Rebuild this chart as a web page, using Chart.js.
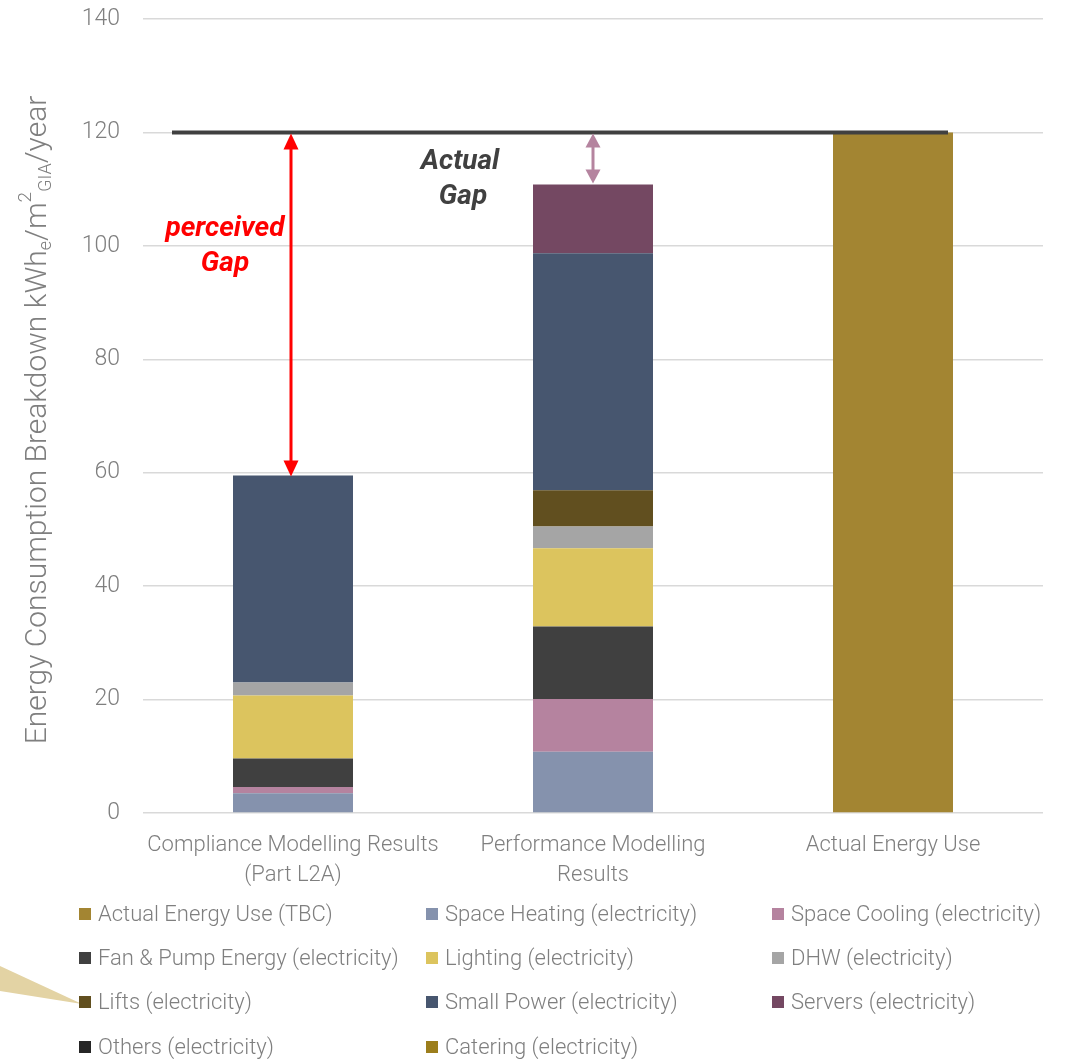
<!DOCTYPE html>
<html>
<head>
<meta charset="utf-8">
<script src="https://cdn.jsdelivr.net/npm/chart.js@4.4.1/dist/chart.umd.min.js"></script>
<style>
  html, body { margin: 0; padding: 0; background: #ffffff; }
  #wrap { width: 1066px; height: 1061px; position: relative; }
</style>
</head>
<body>
<div id="wrap"><canvas id="chart" width="1066" height="1061"></canvas></div>
<script>
// Categories along the x axis (multi-line labels as arrays)
const categories = [
  ["Compliance Modelling Results", "(Part L2A)"],
  ["Performance Modelling", "Results"],
  "Actual Energy Use"
];

// Energy end-use breakdown, kWh_e per m² GIA per year
const actualEnergyUse = [null, null, 120];
const spaceHeating    = [3.5, 10.8, null];
const spaceCooling    = [1.1, 9.3, null];
const fanPumpEnergy   = [5.0, 12.8, null];
const lighting        = [11.1, 13.8, null];
const dhw             = [2.3, 3.8, null];
const lifts           = [null, 6.4, null];
const smallPower      = [36.5, 41.8, null];
const servers         = [null, 12.1, null];
const others          = [null, null, null];
const catering        = [null, null, null];

// Benchmark level shown by the heavy horizontal line
const actualLevel = 120;

// Y axis tick range
const yMin = 0, yMax = 140, yStep = 20;

const seriesLabels = [
  "Actual Energy Use (TBC)", "Space Heating (electricity)", "Space Cooling (electricity)",
  "Fan & Pump Energy (electricity)", "Lighting (electricity)", "DHW (electricity)",
  "Lifts (electricity)", "Small Power (electricity)", "Servers (electricity)",
  "Others (electricity)", "Catering (electricity)"
];
const seriesData = [
  actualEnergyUse, spaceHeating, spaceCooling, fanPumpEnergy, lighting, dhw,
  lifts, smallPower, servers, others, catering
];
const seriesColors = [
  "#A38532", "#8592AD", "#B5839F", "#404040", "#DCC45E", "#A5A5A5",
  "#614F1F", "#47566F", "#744862", "#262626", "#9C7E1C"
];

const FONT = "Roboto, 'Liberation Sans', sans-serif";
const TEXT_GREY = "#7F7F7F";

const stackTotal = idx => seriesData.slice(1).reduce((s, d) => s + (d[idx] || 0), 0);

// Rotated y-axis title with subscripts/superscript
const axisTitlePlugin = {
  id: "axisTitle",
  afterDraw(chart) {
    const ctx = chart.ctx;
    const area = chart.chartArea;
    const parts = [
      { t: "Energy Consumption Breakdown kWh", size: 30, dy: 0 },
      { t: "e", size: 18, dy: 8 },
      { t: "/m", size: 30, dy: 0 },
      { t: "2", size: 19, dy: -12 },
      { t: "GIA", size: 18, dy: 8 },
      { t: "/year", size: 30, dy: 0 }
    ];
    ctx.save();
    ctx.fillStyle = TEXT_GREY;
    ctx.textBaseline = "middle";
    ctx.textAlign = "left";
    let total = 0;
    parts.forEach(p => { ctx.font = `300 ${p.size}px ${FONT}`; p.w = ctx.measureText(p.t).width; total += p.w; });
    ctx.translate(38, (area.top + area.bottom) / 2 + 4);
    ctx.rotate(-Math.PI / 2);
    let x = -total / 2;
    parts.forEach(p => {
      ctx.font = `300 ${p.size}px ${FONT}`;
      ctx.fillText(p.t, x, p.dy);
      x += p.w;
    });
    ctx.restore();
  }
};

function arrowHead(ctx, x, y, dir, w, h, color) {
  ctx.beginPath();
  ctx.moveTo(x, y);
  ctx.lineTo(x - w / 2, y + dir * h);
  ctx.lineTo(x + w / 2, y + dir * h);
  ctx.closePath();
  ctx.fillStyle = color;
  ctx.fill();
}

// Benchmark line, gap arrows and their labels
const gapPlugin = {
  id: "gapMarks",
  afterDatasetsDraw(chart) {
    const ctx = chart.ctx;
    const xs = chart.scales.x, ys = chart.scales.y;
    const yLevel = ys.getPixelForValue(actualLevel);
    const c0 = xs.getPixelForValue(0), c1 = xs.getPixelForValue(1), c2 = xs.getPixelForValue(2);
    ctx.save();
    // heavy benchmark line
    ctx.strokeStyle = "#404040";
    ctx.lineWidth = 4;
    ctx.beginPath();
    ctx.moveTo(c0 - 121, yLevel);
    ctx.lineTo(c2 + 55, yLevel);
    ctx.stroke();

    // perceived gap arrow (red)
    const yComp = ys.getPixelForValue(stackTotal(0));
    const xr = c0 - 2;
    ctx.strokeStyle = "#FF0000";
    ctx.lineWidth = 3;
    ctx.beginPath();
    ctx.moveTo(xr, yLevel + 14);
    ctx.lineTo(xr, yComp - 14);
    ctx.stroke();
    arrowHead(ctx, xr, yLevel + 1, 1, 15, 16, "#FF0000");
    arrowHead(ctx, xr, yComp + 1, -1, 15, 16, "#FF0000");

    // actual gap arrow (pink)
    const yPerf = ys.getPixelForValue(stackTotal(1));
    ctx.strokeStyle = "#B5849F";
    ctx.lineWidth = 3;
    ctx.beginPath();
    ctx.moveTo(c1, yLevel + 12);
    ctx.lineTo(c1, yPerf - 12);
    ctx.stroke();
    arrowHead(ctx, c1, yLevel + 1, 1, 15, 14, "#B5849F");
    arrowHead(ctx, c1, yPerf - 1, -1, 15, 14, "#B5849F");

    // labels
    ctx.textAlign = "center";
    ctx.textBaseline = "middle";
    ctx.font = `italic 700 28px ${FONT}`;
    ctx.fillStyle = "#FF0000";
    ctx.fillText("perceived", c0 - 68, 229);
    ctx.fillText("Gap", c0 - 68, 264);
    ctx.fillStyle = "#404040";
    ctx.fillText("Actual", c0 + 167, 162);
    ctx.fillText("Gap", c0 + 170, 197);
    ctx.restore();
  }
};

// Three-column legend below the plot, plus the callout wedge
const gridLegendPlugin = {
  id: "gridLegend",
  afterDraw(chart) {
    const ctx = chart.ctx;
    const colX = [79, 426, 772];
    const rowY = [914, 958, 1002, 1047];
    ctx.save();
    // callout wedge pointing at the Lifts entry
    ctx.fillStyle = "#E3D3A4";
    ctx.beginPath();
    ctx.moveTo(0, 966);
    ctx.lineTo(82, 1004);
    ctx.lineTo(0, 991);
    ctx.closePath();
    ctx.fill();

    ctx.textBaseline = "middle";
    ctx.textAlign = "left";
    ctx.font = `300 22px ${FONT}`;
    chart.data.datasets.forEach((ds, i) => {
      const x = colX[i % 3], y = rowY[Math.floor(i / 3)];
      ctx.fillStyle = ds.backgroundColor;
      ctx.fillRect(x, y - 6, 12, 12);
      ctx.fillStyle = TEXT_GREY;
      ctx.fillText(ds.label, x + 19, y + 1);
    });
    ctx.restore();
  }
};

const datasets = seriesLabels.map((label, i) => ({
  label,
  data: seriesData[i],
  backgroundColor: seriesColors[i],
  borderWidth: 0,
  stack: "energy",
  barPercentage: 0.4,
  categoryPercentage: 1.0
}));

new Chart(document.getElementById("chart"), {
  type: "bar",
  data: { labels: categories, datasets },
  options: {
    responsive: false,
    animation: false,
    devicePixelRatio: 1,
    layout: { padding: { top: 19, right: 23, bottom: 171, left: 0 } },
    plugins: {
      legend: { display: false },
      tooltip: { enabled: false },
      title: { display: false }
    },
    scales: {
      x: {
        stacked: true,
        grid: { display: false, drawTicks: false },
        border: { display: false },
        ticks: {
          color: TEXT_GREY,
          font: { family: FONT, size: 22, weight: 300, lineHeight: 1.36 },
          padding: 18,
          maxRotation: 0
        },
        afterFit(scale) { scale.height = 77; }
      },
      y: {
        stacked: true,
        min: yMin,
        max: yMax,
        grid: { color: "#D9D9D9", lineWidth: 1.5, drawTicks: false },
        border: { display: false },
        ticks: {
          stepSize: yStep,
          color: TEXT_GREY,
          font: { family: FONT, size: 23, weight: 300 },
          padding: 23
        },
        afterFit(scale) {
          scale.width = 143;
          scale.paddingTop = 0;
          scale.paddingBottom = 0;
        }
      }
    }
  },
  plugins: [axisTitlePlugin, gapPlugin, gridLegendPlugin]
});
</script>
</body>
</html>
